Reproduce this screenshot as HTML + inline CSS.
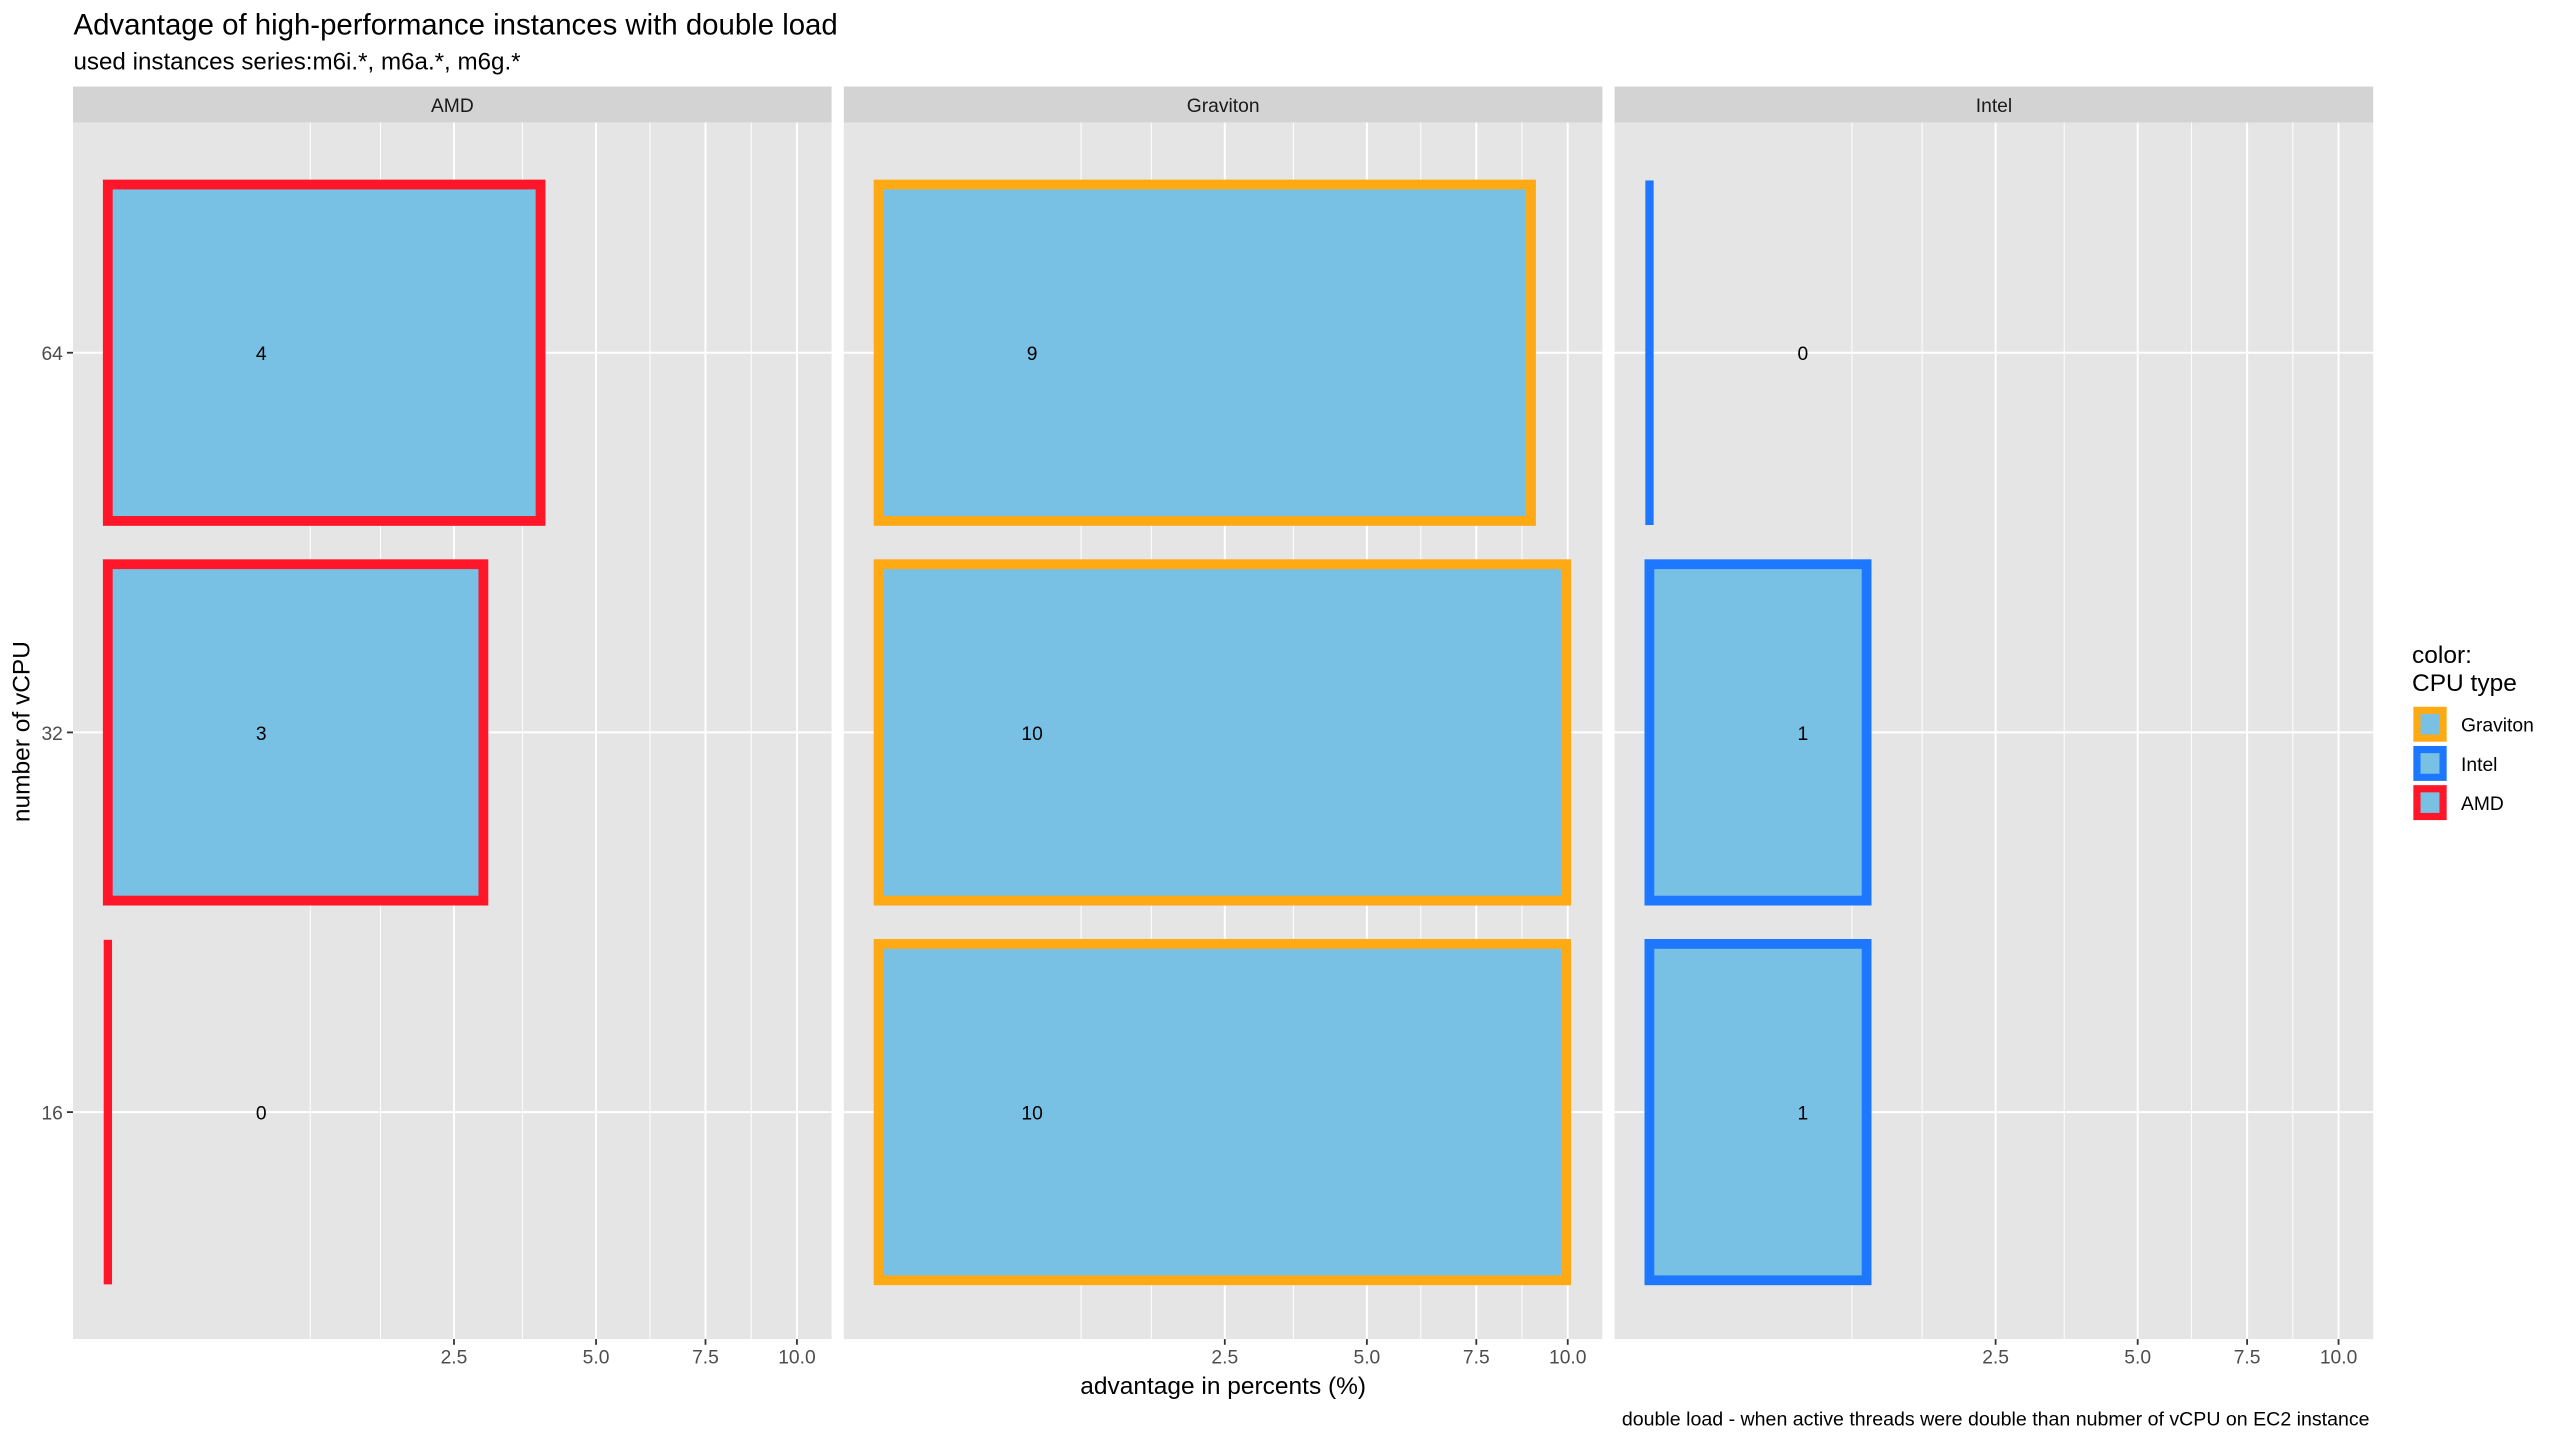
<!DOCTYPE html>
<html><head><meta charset="utf-8"><style>
html,body{margin:0;padding:0;background:#fff;}
svg{display:block;}
text{font-family:"Liberation Sans",Arial,sans-serif;}
</style></head><body>
<svg width="2560" height="1440" viewBox="0 0 1567.6 881.8" preserveAspectRatio="none" xmlns="http://www.w3.org/2000/svg">
<rect width="1567.6" height="881.8" fill="#fff"/>
<text x="45" y="21" font-size="18" fill="#000">Advantage of high-performance instances with double load</text>
<text x="45" y="42.5" font-size="14.8" fill="#000">used instances series:m6i.*, m6a.*, m6g.*</text>

<g id="panels">
<rect x="44.7" y="53" width="464.5" height="22" fill="#D3D3D3"/>
<text x="277" y="68.5" font-size="11.8" text-anchor="middle" fill="#1a1a1a">AMD</text>
<rect x="44.7" y="75" width="464.5" height="745" fill="#E5E5E5"/>
<rect x="516.7" y="53" width="464.5" height="22" fill="#D3D3D3"/>
<text x="749" y="68.5" font-size="11.8" text-anchor="middle" fill="#1a1a1a">Graviton</text>
<rect x="516.7" y="75" width="464.5" height="745" fill="#E5E5E5"/>
<rect x="988.7" y="53" width="464.5" height="22" fill="#D3D3D3"/>
<text x="1221" y="68.5" font-size="11.8" text-anchor="middle" fill="#1a1a1a">Intel</text>
<rect x="988.7" y="75" width="464.5" height="745" fill="#E5E5E5"/>
</g>

<g stroke="#fff">
<g id="g0">
<line x1="190" x2="190" y1="75" y2="820" stroke-width="0.6"/>
<line x1="233" x2="233" y1="75" y2="820" stroke-width="0.6"/>
<line x1="320" x2="320" y1="75" y2="820" stroke-width="0.6"/>
<line x1="398" x2="398" y1="75" y2="820" stroke-width="0.6"/>
<line x1="460" x2="460" y1="75" y2="820" stroke-width="0.6"/>
<line x1="278" x2="278" y1="75" y2="820" stroke-width="1.2"/>
<line x1="365" x2="365" y1="75" y2="820" stroke-width="1.2"/>
<line x1="432" x2="432" y1="75" y2="820" stroke-width="1.2"/>
<line x1="488" x2="488" y1="75" y2="820" stroke-width="1.2"/>
<line x1="44.7" x2="509.2" y1="216" y2="216" stroke-width="1.2"/>
<line x1="44.7" x2="509.2" y1="448.5" y2="448.5" stroke-width="1.2"/>
<line x1="44.7" x2="509.2" y1="681" y2="681" stroke-width="1.2"/>
</g>
<use href="#g0" transform="translate(472,0)"/>
<use href="#g0" transform="translate(944,0)"/>
</g>

<g fill="#78C1E4" stroke-width="6">
<rect x="66" y="113" width="265" height="206" stroke="#FF1628"/>
<rect x="66" y="345.5" width="230" height="206" stroke="#FF1628"/>
<rect x="66" y="578" width="0.1" height="206" stroke="#FF1628" stroke-width="5"/>
<rect x="538" y="113" width="399.5" height="206" stroke="#FFAA14"/>
<rect x="538" y="345.5" width="421" height="206" stroke="#FFAA14"/>
<rect x="538" y="578" width="421" height="206" stroke="#FFAA14"/>
<rect x="1010" y="113" width="0.1" height="206" stroke="#1E78FF" stroke-width="5"/>
<rect x="1010" y="345.5" width="133" height="206" stroke="#1E78FF"/>
<rect x="1010" y="578" width="133" height="206" stroke="#1E78FF"/>
</g>

<g font-size="11.8" text-anchor="middle" fill="#000">
<text x="160" y="220.5">4</text><text x="160" y="453">3</text><text x="160" y="685.5">0</text>
<text x="632" y="220.5">9</text><text x="632" y="453">10</text><text x="632" y="685.5">10</text>
<text x="1104" y="220.5">0</text><text x="1104" y="453">1</text><text x="1104" y="685.5">1</text>
</g>

<g stroke="#333" stroke-width="1.1">
<line x1="41" x2="44.7" y1="216" y2="216"/>
<line x1="41" x2="44.7" y1="448.5" y2="448.5"/>
<line x1="41" x2="44.7" y1="681" y2="681"/>
</g>
<g font-size="11.8" fill="#4D4D4D" text-anchor="end">
<text x="38.5" y="220.5">64</text><text x="38.5" y="453">32</text><text x="38.5" y="685.5">16</text>
</g>
<text transform="translate(18,448) rotate(-90)" font-size="15" text-anchor="middle" fill="#000">number of vCPU</text>

<g id="xt">
<g stroke="#333" stroke-width="1.1">
<line x1="278" x2="278" y1="820" y2="823.5"/>
<line x1="365" x2="365" y1="820" y2="823.5"/>
<line x1="432" x2="432" y1="820" y2="823.5"/>
<line x1="488" x2="488" y1="820" y2="823.5"/>
</g>
<g font-size="11.8" fill="#4D4D4D" text-anchor="middle">
<text x="278" y="835">2.5</text><text x="365" y="835">5.0</text><text x="432" y="835">7.5</text><text x="488" y="835">10.0</text>
</g>
</g>
<use href="#xt" transform="translate(472,0)"/>
<use href="#xt" transform="translate(944,0)"/>
<text x="749" y="853.5" font-size="15" text-anchor="middle" fill="#000">advantage in percents (%)</text>
<text x="1451" y="873" font-size="12" text-anchor="end" fill="#000">double load - when active threads were double than nubmer of vCPU on EC2 instance</text>

<text x="1477" y="406" font-size="15" fill="#000">color:</text>
<text x="1477" y="423" font-size="15" fill="#000">CPU type</text>
<g fill="#78C1E4" stroke-width="4.4">
<rect x="1480" y="435" width="16" height="17" stroke="#FFAA14"/>
<rect x="1480" y="459" width="16" height="17" stroke="#1E78FF"/>
<rect x="1480" y="483" width="16" height="17" stroke="#FF1628"/>
</g>
<g font-size="11.8" fill="#000">
<text x="1507" y="448">Graviton</text>
<text x="1507" y="472">Intel</text>
<text x="1507" y="496">AMD</text>
</g>
</svg>
</body></html>
